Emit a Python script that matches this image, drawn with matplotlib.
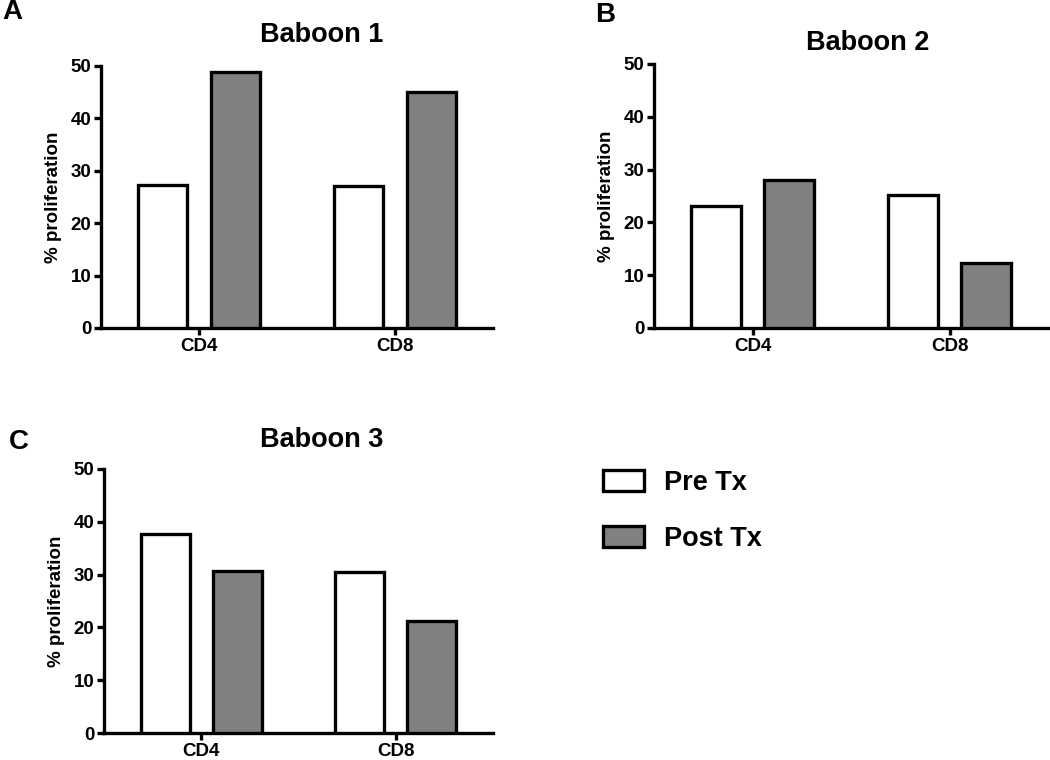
import matplotlib
matplotlib.use("Agg")
import matplotlib.pyplot as plt
from matplotlib.patches import Patch
import numpy as np

plt.rcParams["font.family"] = ["Liberation Sans", "DejaVu Sans"]
plt.rcParams["font.weight"] = "bold"

# ---------------------------------------------------------------------------
# Data
# ---------------------------------------------------------------------------
categories = ["CD4", "CD8"]
series = ["Pre Tx", "Post Tx"]
titles = ["Baboon 1", "Baboon 2", "Baboon 3"]
panel_letters = ["A", "B", "C"]

baboon1_pre = [27.3, 27.1]
baboon1_post = [48.8, 45.0]
baboon2_pre = [23.2, 25.1]
baboon2_post = [28.1, 12.3]
baboon3_pre = [37.7, 30.5]
baboon3_post = [30.7, 21.3]

yticks = [0, 10, 20, 30, 40, 50]

W, H = 1050, 760
fig = plt.figure(figsize=(W / 100, H / 100), dpi=100)


def px_rect(l, t, r, b):
    return [l / W, 1 - b / H, (r - l) / W, (b - t) / H]


# axes rectangles in pixels (left, top, right, bottom)
rects = [(101, 66, 493, 328), (654, 64, 1048, 328), (104, 469, 493, 733)]
title_pos = [(322, 35), (868, 43), (322, 440)]
letter_pos = [(12, 12), (605, 15), (19, 442)]
data = [(baboon1_pre, baboon1_post), (baboon2_pre, baboon2_post),
        (baboon3_pre, baboon3_post)]

fill_colors = ["white", "#808080"]
offset, width = 0.185, 0.25
lw = 2.4

for i, (rect, (pre, post)) in enumerate(zip(rects, data)):
    ax = fig.add_axes(px_rect(*rect))
    x = np.arange(len(categories))
    ax.bar(x - offset, pre, width, color=fill_colors[0], edgecolor="black",
           linewidth=lw, zorder=3)
    ax.bar(x + offset, post, width, color=fill_colors[1], edgecolor="black",
           linewidth=lw, zorder=3)
    ax.set_xlim(-0.5, 1.5)
    ax.set_ylim(0, 50)
    ax.set_yticks(yticks)
    ax.set_xticks(x)
    ax.set_xticklabels(categories)
    for s in ("top", "right"):
        ax.spines[s].set_visible(False)
    for s in ("left", "bottom"):
        ax.spines[s].set_linewidth(2.4)
    ax.tick_params(axis="both", width=2.4, length=5, labelsize=13.5, pad=2)
    ax.set_ylabel("% proliferation", fontsize=13.5, fontweight="bold", labelpad=6)
    for lab in ax.get_xticklabels() + ax.get_yticklabels():
        lab.set_fontweight("bold")

    tx, ty = title_pos[i]
    fig.text(tx / W, 1 - ty / H, titles[i], fontsize=19.5, fontweight="bold",
             ha="center", va="center")
    lx, ly = letter_pos[i]
    fig.text(lx / W, 1 - ly / H, panel_letters[i], fontsize=20,
             fontweight="bold", ha="center", va="center")

handles = [Patch(facecolor=c, edgecolor="black", linewidth=2.4) for c in fill_colors]
fig.legend(handles, series, loc="upper left",
           bbox_to_anchor=(603 / W, 1 - 470 / H), frameon=False,
           handlelength=1.5, handleheight=0.8,
           handletextpad=0.75, labelspacing=1.1, borderpad=0, borderaxespad=0,
           prop={"weight": "bold", "size": 19.5})

fig.savefig("out.png", dpi=100)
